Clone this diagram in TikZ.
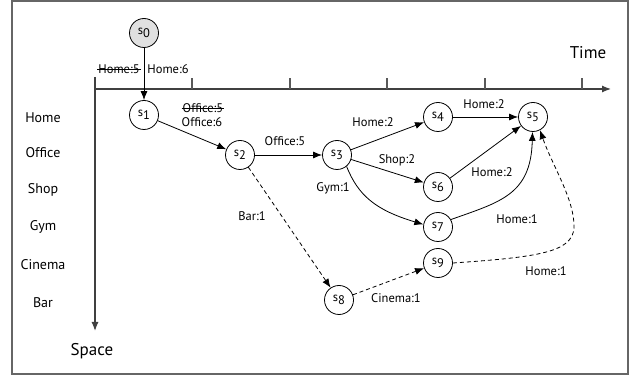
\documentclass[tikz,border=0pt]{standalone}
\usepackage{fontspec}
\setmainfont{PT Sans}
\usetikzlibrary{arrows.meta}
\tikzset{
  st/.style={circle, draw, line width=0.8pt, minimum size=29pt, inner sep=0pt, font=\fontsize{12.5}{12.5}\selectfont},
  el/.style={font=\fontsize{12.5}{14}\selectfont, inner sep=0pt},
  rl/.style={font=\fontsize{14}{16}\selectfont, inner sep=0pt},
  ax/.style={draw=black!65, line width=1.2pt},
  ar/.style={line width=0.8pt, -{Latex[length=9pt,width=7pt]}},
  dar/.style={ar, dashed, dash pattern=on 4pt off 3pt},
  strk/.style={line width=0.8pt},
}
\newcommand{\sn}[1]{s\raisebox{-3pt}{#1}}
\begin{document}
\begin{tikzpicture}[x=1pt,y=1pt]
\useasboundingbox (0,0) rectangle (634,380);
\draw[black!60, line width=1.3pt] (12,6) rectangle (628,379);
% axes
\coordinate (ho) at (95,291);
\coordinate (he) at (611,291);
\coordinate (vt) at (95,303);
\coordinate (ve) at (95,49);
\draw[ax, -{Latex[length=9pt,width=7pt]}, black!75] (ho) -- (he);
\draw[ax, -{Latex[length=9pt,width=7pt]}, black!75] (vt) -- (ve);
\foreach \x in {192,290,387,485,582} { \draw[ax] (\x,291) -- (\x,302); }
\node[font=\fontsize{17}{19}\selectfont] (time) at (588,327) {Time};
\node[font=\fontsize{17}{19}\selectfont] (space) at (92,29) {Space};
% row labels
\node[rl] (rHome) at (43,262) {Home};
\node[rl] (rOffice) at (43,227) {Office};
\node[rl] (rShop) at (43,190) {Shop};
\node[rl] (rGym) at (43,153) {Gym};
\node[rl] (rCinema) at (43,115) {Cinema};
\node[rl] (rBar) at (43,77) {Bar};
% states
\node[st, fill=black!12] (s0) at (144,347) {\sn{0}};
\node[st] (s1) at (144,265) {\sn{1}};
\node[st] (s2) at (240,225) {\sn{2}};
\node[st] (s3) at (337,225) {\sn{3}};
\node[st] (s4) at (438,263) {\sn{4}};
\node[st] (s5) at (533,263) {\sn{5}};
\node[st] (s6) at (438,193) {\sn{6}};
\node[st] (s7) at (438,153) {\sn{7}};
\node[st] (s8) at (339,80) {\sn{8}};
\node[st] (s9) at (438,117) {\sn{9}};
\coordinate (bend9) at (574,152);
% edges
\draw[ar] (s0) -- (s1);
\draw[ar] (s1) -- (s2);
\draw[ar] (s2) -- (s3);
\draw[ar] (s3) -- (s4);
\draw[ar] (s3) -- (s6);
\draw[ar] (s3.-50) .. controls (358,185) and (375,170) .. (s7.170);
\draw[ar] (s4) -- (s5);
\draw[ar] (s6) -- (s5);
\draw[ar] (s7.30) .. controls (500,178) and (531,185) .. (s5.-92);
\draw[dar] (s2) -- (s8);
\draw[dar] (s8) -- (s9);
\draw[dar] (s9.east) .. controls (540,123) and (572,128) .. (bend9)
  .. controls (575,180) and (552,215) .. (s5.-62);
% edge labels
\node[el] (l0a) at (119,311) {Home:5};
\draw[strk] ([xshift=-1pt]l0a.west) -- ([xshift=1pt]l0a.east);
\node[el] (l0b) at (168,311) {Home:6};
\node[el] (l1a) at (203,272) {Office:5};
\draw[strk] ([xshift=-1pt]l1a.west) -- ([xshift=1pt]l1a.east);
\node[el] (l1b) at (202,258) {Office:6};
\node[el] (l2) at (285,239) {Office:5};
\node[el] (l3) at (373,258) {Home:2};
\node[el] (l4) at (397,220) {Shop:2};
\node[el] (l5) at (333,192) {Gym:1};
\node[el] (l6) at (484,276) {Home:2};
\node[el] (l7) at (492,208) {Home:2};
\node[el] (l8) at (517,161) {Home:1};
\node[el] (l9) at (252,164) {Bar:1};
\node[el] (l10) at (396,82) {Cinema:1};
\node[el] (l11) at (546,109) {Home:1};
\end{tikzpicture}
\end{document}
